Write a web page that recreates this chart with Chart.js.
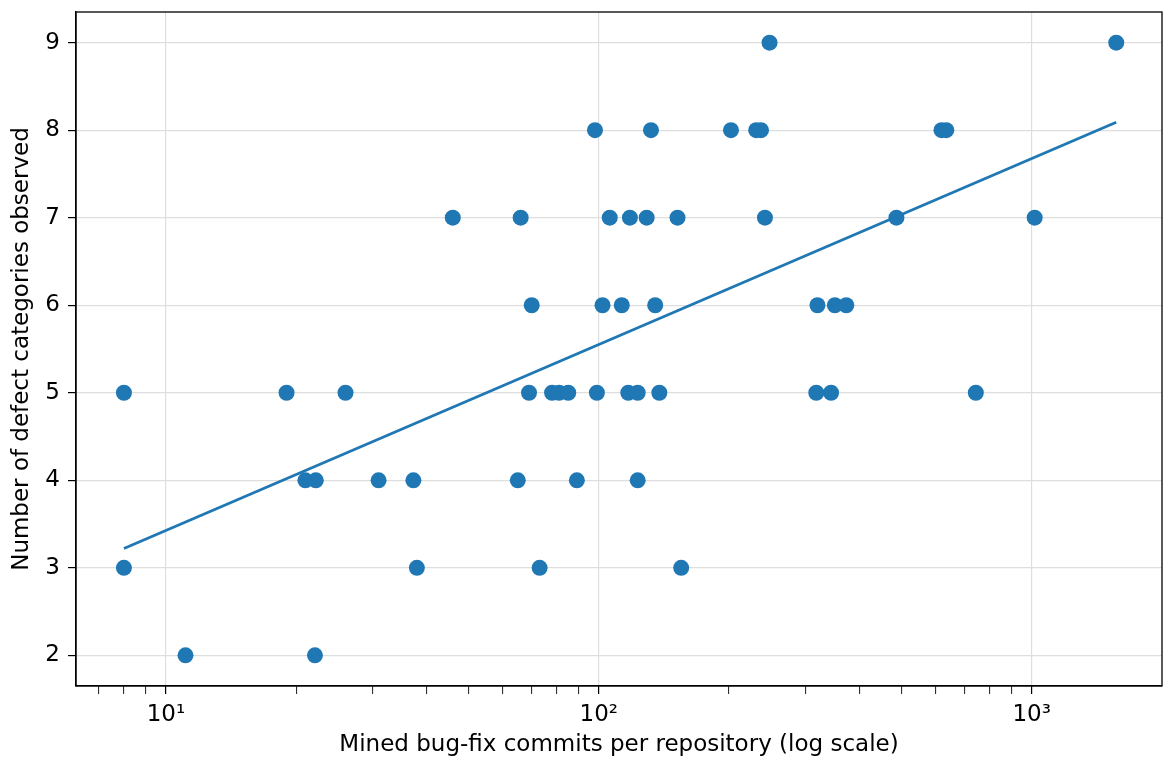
<!DOCTYPE html>
<html>
<head>
<meta charset="utf-8">
<script src="https://cdn.jsdelivr.net/npm/chart.js@4"></script>
<style>
    body { margin: 0; background: #fff; }
    #wrap { width: 1163px; height: 758px; }
</style>
</head>
<body>
<div id="wrap"><canvas id="scatterChart" width="1163" height="758"></canvas></div>
<script>
"use strict";

// Data: commits per repo (x) and defect categories (y)
const commits = [
    248, 1568,
    98, 132, 202, 231, 237, 619, 635,
    46, 66, 106, 118, 129, 152, 242, 487, 1016,
    70, 102, 113, 135, 320, 351, 373,
    8, 19, 26, 69, 78, 81, 85, 99, 117, 123, 138, 318, 344, 743,
    21, 22.2, 31, 37.3, 65, 89, 123,
    8, 38, 73, 155,
    11.1, 22.1
];
const categories = [
    9, 9,
    8, 8, 8, 8, 8, 8, 8,
    7, 7, 7, 7, 7, 7, 7, 7, 7,
    6, 6, 6, 6, 6, 6, 6,
    5, 5, 5, 5, 5, 5, 5, 5, 5, 5, 5, 5, 5, 5,
    4, 4, 4, 4, 4, 4, 4,
    3, 3, 3, 3,
    2, 2
];

// Trendlinjens ändpunkter (avlästa)
const trendX = [8, 1568];
const trendY = [3.22, 8.09];

// Axlarnas ticks
const yTicks = [2, 3, 4, 5, 6, 7, 8, 9];
const xMajorTicks = [10, 100, 1000];
const xMinorTicks = [7, 8, 9, 20, 30, 40, 50, 60, 70, 80, 90, 200, 300, 400, 500, 600, 700, 800, 900];
const xTickLabels = { 10: "10\u00B9", 100: "10\u00B2", 1000: "10\u00B3" };

const blue = "#1f77b4";
const fontFamily = "'DejaVu Sans', sans-serif";
const fontSize = 23;

// Rita ram runt hela plottytan (topp och höger också)
const frame = {
    id: "frame",
    afterDraw(chart) {
        const { ctx, chartArea } = chart;
        ctx.save();
        ctx.strokeStyle = "#000";
        ctx.lineWidth = 1.3;
        ctx.strokeRect(chartArea.left, chartArea.top, chartArea.right - chartArea.left, chartArea.bottom - chartArea.top);
        ctx.restore();
    }
};

new Chart(document.getElementById("scatterChart"), {
    type: "scatter",
    data: {
        datasets: [
            {
                type: "line",
                data: trendX.map((x, i) => ({ x: x, y: trendY[i] })),
                borderColor: blue,
                borderWidth: 2.8,
                pointRadius: 0,
                fill: false,
                order: 0
            },
            {
                data: commits.map((x, i) => ({ x: x, y: categories[i] })),
                backgroundColor: blue,
                borderWidth: 0,
                pointRadius: 8,
                pointHoverRadius: 8,
                order: 1
            }
        ]
    },
    options: {
        responsive: false,
        animation: false,
        events: [],
        layout: { autoPadding: false, padding: { top: 12, right: 1, left: 0, bottom: 0 } },
        plugins: {
            legend: { display: false },
            tooltip: { enabled: false }
        },
        scales: {
            x: {
                type: "logarithmic",
                min: 6.2,
                max: 2000,
                afterBuildTicks: scale => {
                    scale.ticks = xMinorTicks.concat(xMajorTicks).sort((a, b) => a - b).map(v => ({ value: v, major: xMajorTicks.includes(v) }));
                },
                afterFit: scale => {
                    scale.height = 72;
                    scale.paddingLeft = 0;
                    scale.paddingRight = 0;
                },
                ticks: {
                    autoSkip: false,
                    maxRotation: 0,
                    padding: 7,
                    color: "#000",
                    font: { family: fontFamily, size: fontSize },
                    callback: value => xTickLabels[value] || ""
                },
                grid: {
                    color: ctx => xMajorTicks.includes(ctx.tick && ctx.tick.value) ? "#dedede" : "rgba(0,0,0,0)",
                    lineWidth: 1.2,
                    tickColor: "#000",
                    tickLength: 8,
                    tickWidth: ctx => xMajorTicks.includes(ctx.tick && ctx.tick.value) ? 1.2 : 0.9
                },
                border: { display: true, color: "#000", width: 1.3 },
                title: {
                    display: true,
                    text: "Mined bug-fix commits per repository (log scale)",
                    color: "#000",
                    font: { family: fontFamily, size: fontSize, lineHeight: 1.1 },
                    padding: { top: 0, bottom: 0 }
                }
            },
            y: {
                min: 1.65,
                max: 9.35,
                afterBuildTicks: scale => {
                    scale.ticks = yTicks.map(v => ({ value: v }));
                },
                afterFit: scale => {
                    scale.width = 76;
                    scale.paddingTop = 0;
                    scale.paddingBottom = 0;
                },
                ticks: {
                    padding: 8,
                    color: "#000",
                    font: { family: fontFamily, size: fontSize }
                },
                grid: {
                    color: "#dedede",
                    lineWidth: 1.2,
                    tickColor: "#000",
                    tickLength: 8,
                    tickWidth: 1.2
                },
                border: { display: true, color: "#000", width: 1.3 },
                title: {
                    display: true,
                    text: "Number of defect categories observed",
                    color: "#000",
                    font: { family: fontFamily, size: fontSize },
                    padding: { top: 8, bottom: 0 }
                }
            }
        }
    },
    plugins: [frame]
});
</script>
</body>
</html>
